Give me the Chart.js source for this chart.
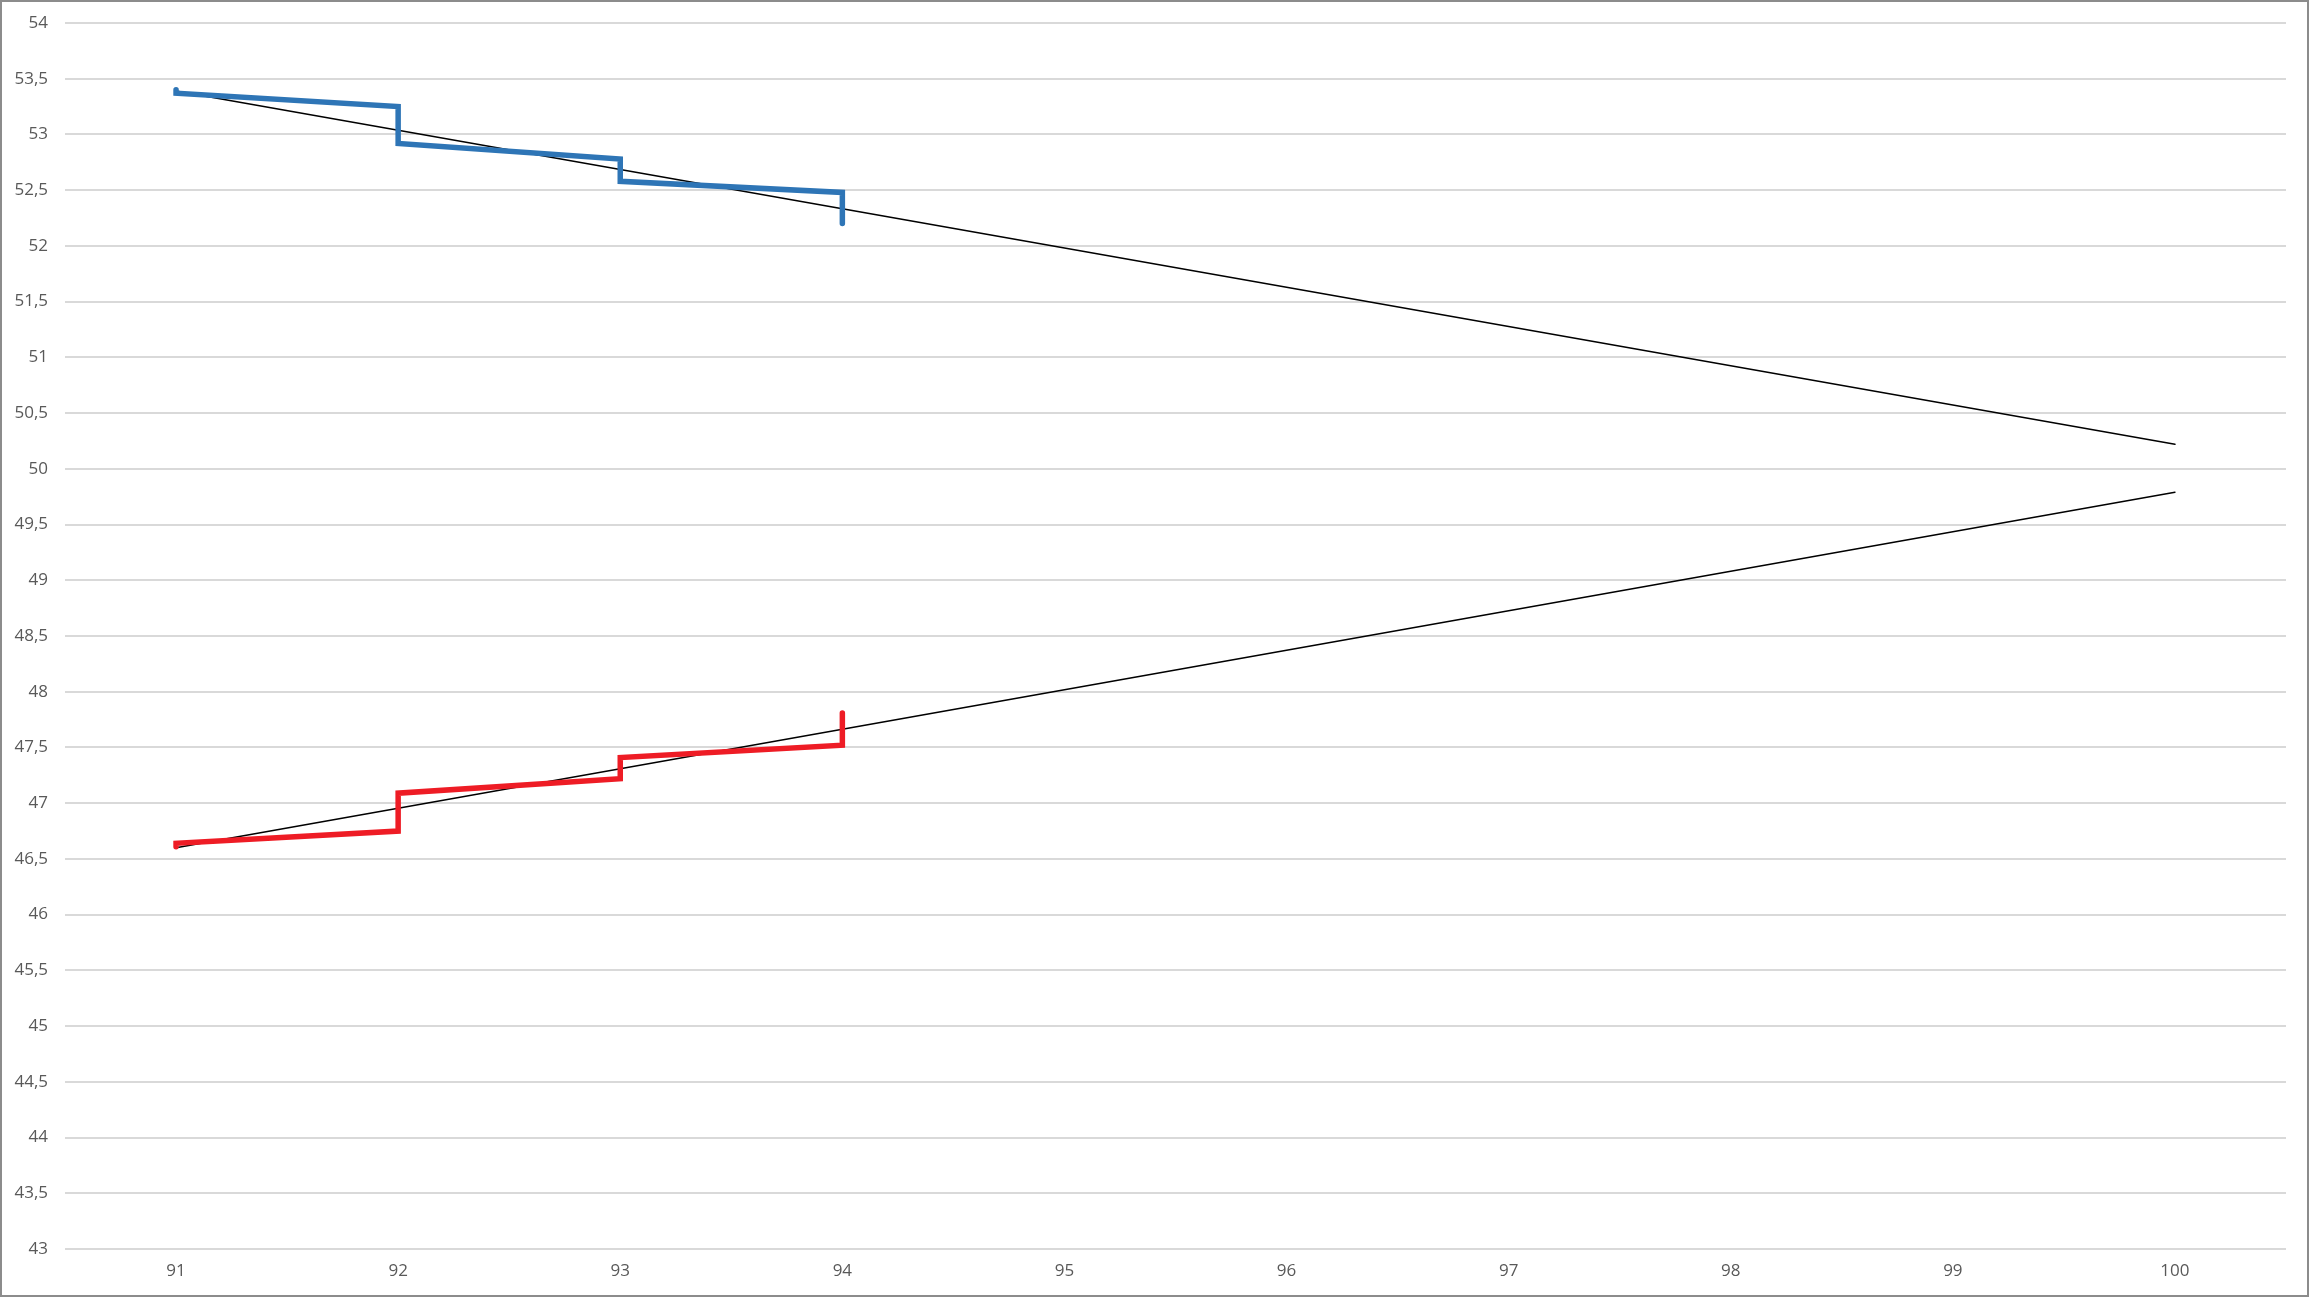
<!DOCTYPE html>
<html>
<head>
<meta charset="utf-8">
<script src="https://cdn.jsdelivr.net/npm/chart.js@4.4.1/dist/chart.umd.min.js"></script>
<style>
  html, body { margin: 0; padding: 0; background: #fff; }
  #wrap { position: relative; width: 2309px; height: 1297px; }
  #frame {
    position: absolute; left: 0; top: 0; width: 2309px; height: 1297px;
    box-sizing: border-box; border: 2px solid #8c8c8c; pointer-events: none;
  }
</style>
</head>
<body>
<div id="wrap">
  <canvas id="myChart" width="2309" height="1297"></canvas>
  <div id="frame"></div>
</div>
<script>
// values
const xTicks = [91, 92, 93, 94, 95, 96, 97, 98, 99, 100];

const blueX = [91, 91, 92, 92, 93, 93, 94, 94];
const blueY = [53.40, 53.37, 53.25, 52.92, 52.78, 52.58, 52.48, 52.20];

const redX = [91, 91, 92, 92, 93, 93, 94, 94];
const redY = [46.61, 46.64, 46.75, 47.09, 47.22, 47.41, 47.52, 47.81];

// linear trendlines, forecast forward to 100
const trendX = [91, 100];
const blueTrendY = [53.39, 50.22];
const redTrendY = [46.60, 49.79];

function toPoints(xs, ys) {
  return xs.map((x, i) => ({ x: x, y: ys[i] }));
}

function lineSet(label, xs, ys, color, width) {
  return {
    label: label,
    data: toPoints(xs, ys),
    showLine: true,
    borderColor: color,
    backgroundColor: color,
    borderWidth: width,
    borderCapStyle: 'round',
    borderJoinStyle: 'miter',
    pointRadius: 0,
    pointHoverRadius: 0,
    tension: 0,
  };
}

const tickFont = { family: "'Open Sans', 'Liberation Sans', sans-serif", size: 17 };

const config = {
  type: 'scatter',
  data: {
    datasets: [
      lineSet('Trend blue', trendX, blueTrendY, '#000000', 1.5),
      lineSet('Trend red', trendX, redTrendY, '#000000', 1.5),
      lineSet('Blue', blueX, blueY, '#2E75B6', 5.5),
      lineSet('Red', redX, redY, '#EE1C25', 5.5),
    ].reverse(),
  },
  options: {
    responsive: false,
    animation: false,
    layout: { padding: { top: 23, right: 23, left: 0, bottom: 0 } },
    plugins: {
      legend: { display: false },
      tooltip: { enabled: false },
    },
    scales: {
      x: {
        type: 'linear',
        min: 90.5,
        max: 100.5,
        afterBuildTicks: (axis) => {
          axis.ticks = xTicks.map((v) => ({ value: v }));
        },
        afterFit: (axis) => {
          axis.height = 48;
          axis.paddingLeft = 0;
          axis.paddingRight = 0;
        },
        grid: { display: false, drawTicks: false },
        border: { display: false },
        ticks: { color: '#595959', font: tickFont, padding: 12, maxRotation: 0 },
      },
      y: {
        min: 43,
        max: 54,
        afterFit: (axis) => {
          axis.width = 65;
          // keep label overflow from pushing the plot area in
          axis.paddingTop = 0;
          axis.paddingBottom = 0;
        },
        grid: { color: '#d9d9d9', lineWidth: 2, drawTicks: false },
        border: { display: false },
        ticks: {
          stepSize: 0.5,
          color: '#595959',
          font: tickFont,
          padding: 17,
          callback: (v) => String(v).replace('.', ','),
        },
      },
    },
  },
};

const myChart = new Chart(document.getElementById('myChart'), config);
</script>
</body>
</html>
